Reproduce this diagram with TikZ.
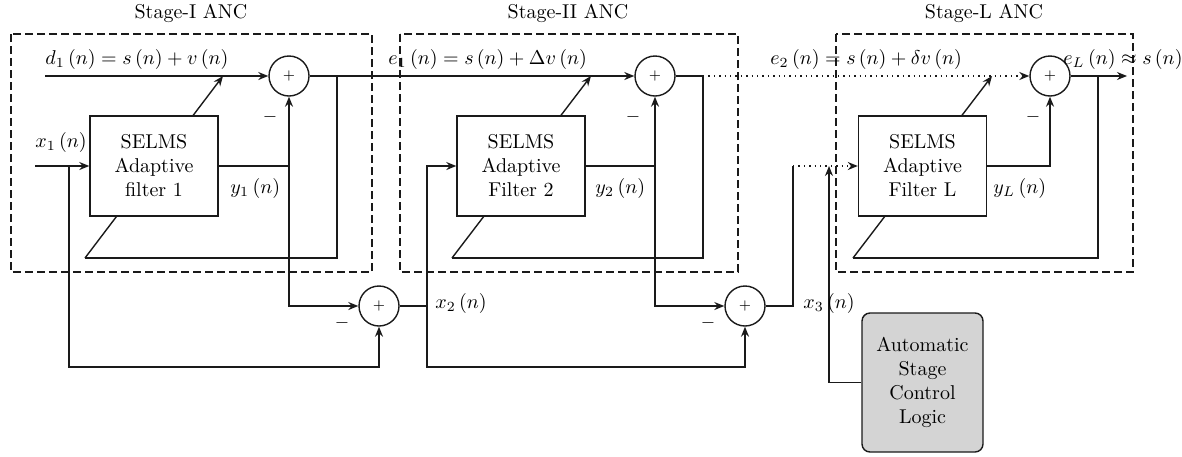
\documentclass[tikz,border=0pt]{standalone}
\usepackage{amsmath,amssymb}
\usepackage{tikz}
\usepackage{xcolor}
\usetikzlibrary{arrows.meta,positioning,backgrounds}
\definecolor{ink}     {HTML}{1A1A1A}
\definecolor{ctrlgray}{HTML}{D4D4D4}
\tikzset{
  filtbox/.style   ={draw=ink, fill=white, line width=0.7pt,
                     minimum width=64pt, minimum height=50pt,
                     align=center, inner sep=2pt},
  sumnode/.style   ={circle, draw=ink, fill=white, line width=0.7pt,
                     minimum size=20pt, inner sep=0pt, font=\scriptsize},
  ctrlbox/.style   ={draw=ink, fill=ctrlgray, line width=0.7pt, rounded corners=4pt,
                     minimum width=60.5pt, minimum height=69.5pt,
                     align=center, inner sep=2pt},
  stageframe/.style={draw=ink, line width=0.6pt, dash pattern=on 4pt off 2pt},
  sigarr/.style    ={-{Stealth[length=5pt,width=4pt]}, line width=0.7pt, draw=ink},
  sigline/.style   ={line width=0.7pt, draw=ink},
  dotarr/.style    ={sigarr, dotted},
  siglabel/.style  ={anchor=base west, inner sep=0pt},
  minuslabel/.style={inner sep=0pt, font=\small},
}

\begin{document}
\begin{tikzpicture}[x=0.5pt,y=-0.5pt]
    \useasboundingbox (0,0) rectangle (1182,456);

    \draw[stageframe] (11,34)  rectangle (372,272);
    \draw[stageframe] (400,34) rectangle (738,272);
    \draw[stageframe] (836,34) rectangle (1133,272);
    \node (t1) at (191,13) {Stage-I ANC};
    \node (t2) at (568,13) {Stage-II ANC};
    \node (tL) at (984,13) {Stage-L ANC};

    \coordinate (d1in) at (45,76);
    \coordinate (x1in) at (35,166);
    \coordinate (x1br) at (69,166);
    \coordinate (x1lo) at (69,367);
    \coordinate (y1br) at (289,166);
    \coordinate (e1br) at (337,76);
    \coordinate (fb1)  at (85,258);
    \coordinate (ad1)  at (223,76);
    \coordinate (x2up) at (427,166);
    \coordinate (x2lo) at (427,367);
    \coordinate (y2br) at (655,166);
    \coordinate (e2br) at (703,76);
    \coordinate (fb2)  at (452,258);
    \coordinate (ad2)  at (591,76);
    \coordinate (x3up) at (793,166);
    \coordinate (ctl)  at (829,166);
    \coordinate (eLbr) at (1098,76);
    \coordinate (eLout) at (1127,76);
    \coordinate (fbL)  at (853,258);
    \coordinate (adL)  at (992,76);

    \draw[sigarr] (fb1) -- (ad1);
    \draw[sigarr] (fb2) -- (ad2);
    \draw[sigarr] (fbL) -- (adL);

    \node[filtbox] (f1) at (154,166) {SELMS\\Adaptive\\filter 1};
    \node[filtbox] (f2) at (521,166) {SELMS\\Adaptive\\Filter 2};
    \node[filtbox] (fL) at (922.5,166) {SELMS\\Adaptive\\Filter L};
    \node[sumnode] (s1) at (289,76)  {$+$};
    \node[sumnode] (s2) at (655,76)  {$+$};
    \node[sumnode] (sL) at (1050,76) {$+$};
    \node[sumnode] (sa) at (379,306) {$+$};
    \node[sumnode] (sb) at (745,306) {$+$};
    \node[ctrlbox] (ascl) at (922.5,382.5) {Automatic\\Stage\\Control\\Logic};

    \draw[sigarr] (d1in) -- (s1.west);
    \draw[sigarr] (x1in) -- (f1.west);
    \draw[sigarr] (f1.east) -| (s1.south);
    \draw[sigarr] (y1br) |- (sa.west);
    \draw[sigarr] (x1br) -- (x1lo) -| (sa.south);
    \draw[sigarr] (s1.east) -- (s2.west);
    \draw[sigline] (e1br) |- (fb1);

    \draw[sigarr] (sa.east) -| (x2up) -- (f2.west);
    \draw[sigarr] (x2up) -- (x2lo) -| (sb.south);
    \draw[sigarr] (f2.east) -| (s2.south);
    \draw[sigarr] (y2br) |- (sb.west);
    \draw[sigline] (s2.east) -- (e2br);
    \draw[dotarr] (e2br) -- (sL.west);
    \draw[sigline] (e2br) |- (fb2);

    \draw[sigline] (sb.east) -| (x3up);
    \draw[dotarr] (x3up) -- (fL.west);
    \draw[sigarr] (ascl.west) -| (ctl);
    \draw[sigarr] (fL.east) -| (sL.south);
    \draw[sigarr] (sL.east) -- (eLout);
    \draw[sigline] (eLbr) |- (fbL);

    \node[siglabel] (d1lab) at (45,64)   {$d_1\,(n) = s\,(n) + v\,(n)$};
    \node[siglabel] (e1lab) at (388,64)  {$e_1\,(n) = s\,(n) + \Delta v\,(n)$};
    \node[siglabel] (e2lab) at (770,64)  {$e_2\,(n) = s\,(n) + \delta v\,(n)$};
    \node[siglabel] (eLlab) at (1063,64) {$e_L\,(n) \approx s\,(n)$};
    \node[siglabel] (x1lab) at (35,147)  {$x_1\,(n)$};
    \node[siglabel] (y1lab) at (230,193) {$y_1\,(n)$};
    \node[siglabel] (y2lab) at (595,193) {$y_2\,(n)$};
    \node[siglabel] (yLlab) at (993,193) {$y_L\,(n)$};
    \node[siglabel] (x2lab) at (435,308) {$x_2\,(n)$};
    \node[siglabel] (x3lab) at (803,308) {$x_3\,(n)$};
    \node[minuslabel] (m1) at (270,117)  {$-$};
    \node[minuslabel] (m2) at (633,117)  {$-$};
    \node[minuslabel] (mL) at (1033,117) {$-$};
    \node[minuslabel] (ma) at (342,323)  {$-$};
    \node[minuslabel] (mb) at (708,323)  {$-$};
  \end{tikzpicture}
\end{document}
